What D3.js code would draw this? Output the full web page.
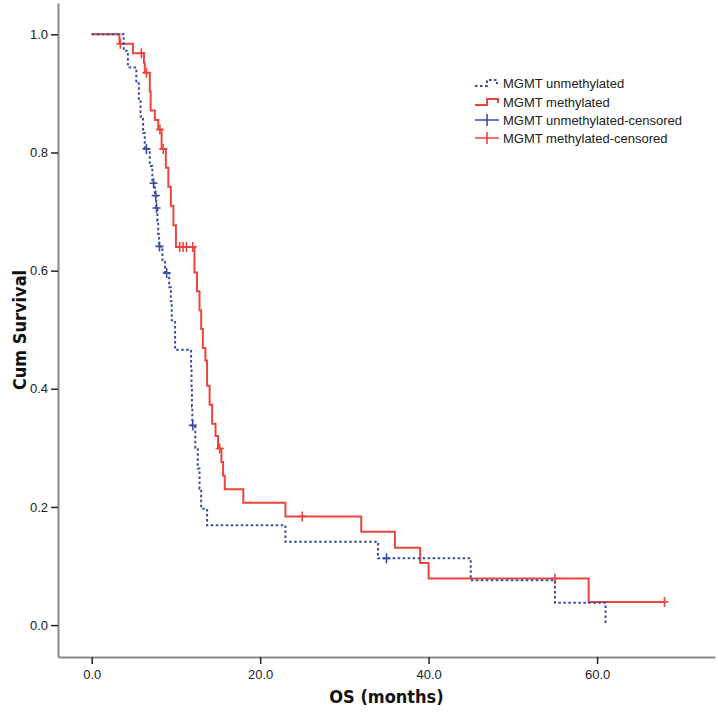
<!DOCTYPE html>
<html>
<head>
<meta charset="utf-8">
<script src="https://cdn.jsdelivr.net/npm/d3@7/dist/d3.min.js"></script>
<style>
  html, body { margin: 0; padding: 0; background: #fff; }
  svg { display: block; }
  .tick text { font-family: "Liberation Sans", Arial, sans-serif; font-size: 13px; fill: #222; }
  .axis-title { font-family: "Liberation Sans Narrow", "Arial Narrow", "DejaVu Sans Condensed", sans-serif; font-weight: bold; font-size: 18px; fill: #111; }
  .legend text { font-family: "Liberation Sans", Arial, sans-serif; font-size: 13px; fill: #222; }
</style>
</head>
<body>
<svg id="chart" width="718" height="718"></svg>
<script>
// ---- data ----
const seriesNames = ["MGMT unmethylated", "MGMT methylated"];
const legendLabels = ["MGMT unmethylated", "MGMT methylated", "MGMT unmethylated-censored", "MGMT methylated-censored"];

// step points [months, cumulative survival after the event]
const unmethylatedSteps = [
  [0, 1], [3.8, 0.972], [4.3, 0.944], [5.3, 0.917], [5.6, 0.889], [5.8, 0.861], [6.1, 0.833],
  [6.3, 0.806], [6.9, 0.777], [7.2, 0.748], [7.5, 0.727], [7.65, 0.706], [7.8, 0.684], [7.9, 0.662],
  [8.0, 0.641], [8.4, 0.618], [8.7, 0.596], [9.2, 0.572], [9.4, 0.548], [9.5, 0.516], [9.9, 0.466],
  [11.8, 0.434], [11.85, 0.402], [11.9, 0.370], [11.95, 0.338], [12.3, 0.300], [12.6, 0.265],
  [12.8, 0.231], [13.0, 0.197], [13.7, 0.169], [23, 0.141], [34, 0.113], [45, 0.076], [55, 0.038], [61, 0]
];
const unmethylatedCensored = [6.5, 7.35, 7.6, 7.7, 8.05, 8.9, 12.0, 35];

const methylatedSteps = [
  [0, 1], [3.3, 0.984], [4.9, 0.968], [6.2, 0.952], [6.3, 0.935], [6.9, 0.903], [7.0, 0.871],
  [7.5, 0.855], [7.9, 0.839], [8.3, 0.806], [8.8, 0.774], [9.1, 0.742], [9.4, 0.710], [9.7, 0.677],
  [10.0, 0.640], [12.2, 0.597], [12.5, 0.565], [12.8, 0.533], [13.0, 0.501], [13.2, 0.469],
  [13.5, 0.448], [13.7, 0.405], [14.0, 0.373], [14.3, 0.341], [14.7, 0.320], [15.0, 0.299],
  [15.4, 0.276], [15.6, 0.253], [15.8, 0.230], [18.0, 0.207], [23.0, 0.184], [32, 0.158],
  [36, 0.131], [39, 0.105], [40, 0.079], [59, 0.039], [68, 0.039]
];
const methylatedCensored = [3.4, 5.9, 6.5, 8.1, 8.5, 10.45, 10.85, 11.25, 12.0, 15.2, 25, 55, 68];

const xTicks = [0, 20, 40, 60];
const yTicks = [0, 0.2, 0.4, 0.6, 0.8, 1.0];
const xTitle = "OS (months)";
const yTitle = "Cum Survival";

// ---- drawing ----
const colors = { unmeth: "#3a4ba2", meth: "#e8463e" };
const svg = d3.select("#chart");

const x = d3.scaleLinear().domain([-4, 74]).range([58, 715]);
const y = d3.scaleLinear().domain([-0.054, 1.053]).range([657, 3]);

// axes
const xAxis = svg.append("g").attr("transform", `translate(0,${y.range()[0]})`)
  .call(d3.axisBottom(x).tickValues(xTicks).tickFormat(d3.format(".1f")).tickSize(7).tickSizeOuter(0).tickPadding(6));
const yAxis = svg.append("g").attr("transform", `translate(${x.range()[0]},0)`)
  .call(d3.axisLeft(y).tickValues(yTicks).tickFormat(d3.format(".1f")).tickSize(7).tickSizeOuter(0).tickPadding(3));
[xAxis, yAxis].forEach(g => {
  g.select(".domain").attr("stroke", "#8a8a8a").attr("stroke-width", 2);
  g.selectAll(".tick line").attr("stroke", "#222").attr("stroke-width", 1.5);
});

svg.append("text").attr("class", "axis-title")
  .attr("x", (x.range()[0] + x.range()[1]) / 2).attr("y", 703)
  .attr("text-anchor", "middle").text(xTitle);
svg.append("text").attr("class", "axis-title")
  .attr("transform", `translate(26,${(y.range()[0] + y.range()[1]) / 2}) rotate(-90)`)
  .attr("text-anchor", "middle").text(yTitle);

const stepLine = d3.line().x(d => x(d[0])).y(d => y(d[1])).curve(d3.curveStepAfter);
function survAt(steps, t) {
  let s = steps[0][1];
  for (const p of steps) { if (p[0] <= t) s = p[1]; }
  return s;
}

function drawSeries(steps, censored, color, dashed) {
  const g = svg.append("g");
  g.append("path").datum(steps).attr("d", stepLine)
    .attr("fill", "none").attr("stroke", color).attr("stroke-width", 2)
    .attr("stroke-dasharray", dashed ? "2.5,2.5" : null);
  g.selectAll("path.cens").data(censored).join("path").attr("class", "cens")
    .attr("d", t => { const cx = x(t), cy = y(survAt(steps, t)); return `M${cx - 4},${cy}H${cx + 4}M${cx},${cy - 5}V${cy + 5}`; })
    .attr("stroke", color).attr("stroke-width", 1.6).attr("fill", "none");
}
drawSeries(methylatedSteps, methylatedCensored, colors.meth, false);
drawSeries(unmethylatedSteps, unmethylatedCensored, colors.unmeth, true);

// legend
const lg = svg.append("g").attr("class", "legend");
const lx = 475, ly = [83, 102, 120, 138];
const legendColors = [colors.unmeth, colors.meth, colors.unmeth, colors.meth];
legendLabels.forEach((lab, i) => {
  const cy = ly[i];
  if (i === 0) {
    lg.append("path").attr("d", `M${lx},${cy + 3}H${lx + 12}V${cy - 3}H${lx + 22}V${cy + 1}`)
      .attr("fill", "none").attr("stroke", legendColors[i]).attr("stroke-width", 2).attr("stroke-dasharray", "2.5,2.5");
  } else if (i === 1) {
    lg.append("path").attr("d", `M${lx},${cy + 3}H${lx + 12}V${cy - 3}H${lx + 23}V${cy + 1}`)
      .attr("fill", "none").attr("stroke", legendColors[i]).attr("stroke-width", 2);
  } else {
    lg.append("path").attr("d", `M${lx},${cy}H${lx + 24}M${lx + 12},${cy - 6}V${cy + 6}`)
      .attr("fill", "none").attr("stroke", legendColors[i]).attr("stroke-width", 1.6);
  }
  lg.append("text").attr("x", lx + 28).attr("y", cy + 5).text(lab);
});
</script>
</body>
</html>
